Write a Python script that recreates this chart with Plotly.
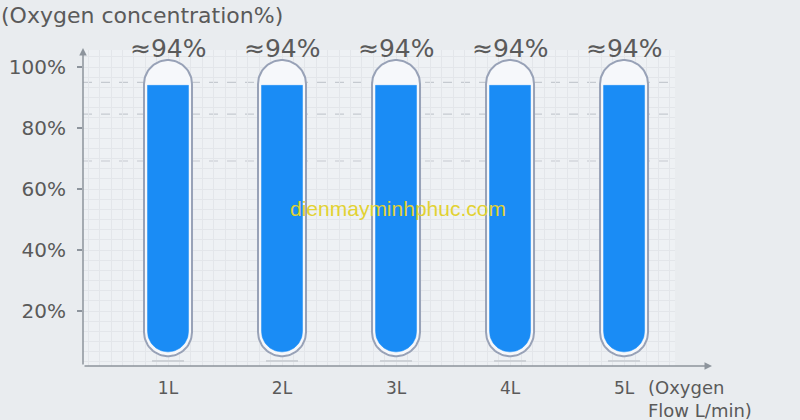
import numpy as np
import plotly.graph_objects as go

# ---- data ----
flow_labels = ["1L", "2L", "3L", "4L", "5L"]
flow_pos = [1, 2, 3, 4, 5]
concentration = [94, 94, 94, 94, 94]
value_labels = ["≈94%", "≈94%", "≈94%", "≈94%", "≈94%"]
y_tick_vals = [20, 40, 60, 80, 100]
y_tick_text = ["20%", "40%", "60%", "80%", "100%"]
ref_levels = [95, 84.6, 69.2]

# ---- style constants ----
TXT = "#5a5a5a"
FONT = "DejaVu Sans"
PX_X = 114.0      # pixels per x unit
PX_Y = 3.05       # pixels per percent
TUBE_TOP = 102.3
TUBE_BOT = 5.2
TUBE_R_PX = 24
FILL_R_PX = 20.5
FILL_BOT = 6.6
SHADOW_Y = 3.6
SHADOW_HALF_PX = 16

t = np.linspace(0, np.pi, 40)


def capsule_path(xc, top, bot, r_px, flat_top=False):
    rx = r_px / PX_X
    ry = r_px / PX_Y
    xs, ys = [], []
    if flat_top:
        xs += [xc + rx, xc - rx]
        ys += [top, top]
    else:
        xs += list(xc + rx * np.cos(t))
        ys += list(top - ry + ry * np.sin(t))
    xs += list(xc - rx * np.cos(t))
    ys += list(bot + ry - ry * np.sin(t))
    xs.append(xs[0]); ys.append(ys[0])
    return xs, ys


fig = go.Figure()

# faint shadows beneath tubes
sx, sy = [], []
for xp in flow_pos:
    sx += [xp - SHADOW_HALF_PX / PX_X, xp + SHADOW_HALF_PX / PX_X, None]
    sy += [SHADOW_Y, SHADOW_Y, None]
fig.add_trace(go.Scatter(x=sx, y=sy, mode="lines", line=dict(color="#cdd1d6", width=2),
                         hoverinfo="skip", showlegend=False))

# glass tubes
gx, gy = [], []
for xp in flow_pos:
    xs, ys = capsule_path(xp, TUBE_TOP, TUBE_BOT, TUBE_R_PX)
    gx += xs + [None]; gy += ys + [None]
fig.add_trace(go.Scatter(x=gx, y=gy, mode="lines", fill="toself", fillcolor="#f6f8fb",
                         line=dict(color="#98a2b7", width=2), hoverinfo="skip", showlegend=False))

# blue oxygen fill
bx, by = [], []
for xp, v in zip(flow_pos, concentration):
    xs, ys = capsule_path(xp, v, FILL_BOT, FILL_R_PX, flat_top=True)
    bx += xs + [None]; by += ys + [None]
fig.add_trace(go.Scatter(x=bx, y=by, mode="lines", fill="toself", fillcolor="#1a8cf5",
                         line=dict(color="#1a8cf5", width=0.5), hoverinfo="skip", showlegend=False))

# dashed reference lines
for lv in ref_levels:
    fig.add_shape(type="line", xref="paper", yref="y", x0=0, x1=1, y0=lv, y1=lv,
                  line=dict(color="#c5cad0", width=1.2, dash="dash"), layer="below")

annotations = []
for xp, lab in zip(flow_pos, value_labels):
    annotations.append(dict(x=xp, y=1, xref="x", yref="paper", text=lab, showarrow=False,
                            yanchor="middle", yshift=2, font=dict(family=FONT, size=25, color=TXT)))
# axis arrows
annotations.append(dict(x=0, y=1.006, xref="paper", yref="paper", ax=0, ay=318, axref="pixel", ayref="pixel",
                        text="", showarrow=True, arrowhead=2, arrowsize=1, arrowwidth=1.5,
                        arrowcolor="#8d949c"))
annotations.append(dict(x=1.0625, y=0, xref="paper", yref="paper", ax=-629, ay=0, axref="pixel", ayref="pixel",
                        text="", showarrow=True, arrowhead=2, arrowsize=1, arrowwidth=1.5,
                        arrowcolor="#8d949c"))
# titles
annotations.append(dict(x=-0.142, y=1.1076, xref="paper", yref="paper", xanchor="left", yanchor="middle",
                        text="(Oxygen concentration%)", showarrow=False,
                        font=dict(family=FONT, size=22, color=TXT)))
annotations.append(dict(x=0.951, y=-0.028, xref="paper", yref="paper", xanchor="left", yanchor="top",
                        align="left", text="(Oxygen<br>Flow L/min)", showarrow=False,
                        font=dict(family=FONT, size=18, color=TXT)))
# watermark
annotations.append(dict(x=0.532, y=0.5, xref="paper", yref="paper", text="dienmayminhphuc.com",
                        showarrow=False, font=dict(family="Liberation Sans", size=21, color="#e2d232")))

fig.update_layout(
    width=800, height=420,
    margin=dict(l=83, r=125, t=50, b=54),
    paper_bgcolor="#e9ecef",
    plot_bgcolor="#eef1f4",
    annotations=annotations,
    showlegend=False,
    xaxis=dict(range=[0.2544, 5.447], tickvals=flow_pos, ticktext=flow_labels, automargin=False,
               showgrid=True, gridcolor="#e3e6ea", gridwidth=1,
               minor=dict(dtick=0.1, tick0=0, showgrid=True, gridcolor="#e3e6ea", gridwidth=1),
               showline=False, zeroline=False, ticks="", ticklabelstandoff=10,
               tickfont=dict(family=FONT, size=17, color=TXT)),
    yaxis=dict(range=[1.97, 105.6], tickvals=y_tick_vals, ticktext=y_tick_text, automargin=False,
               showgrid=True, gridcolor="#e3e6ea", gridwidth=1,
               minor=dict(dtick=10 / 3, tick0=0, showgrid=True, gridcolor="#e3e6ea", gridwidth=1),
               showline=False, zeroline=False, ticks="outside", ticklen=5, tickwidth=1.5,
               tickcolor="#8d949c", ticklabelstandoff=7,
               tickfont=dict(family=FONT, size=20, color=TXT)),
)

fig.write_html("out.html", config={"displayModeBar": False},
               post_script="document.body.style.margin='0';")
